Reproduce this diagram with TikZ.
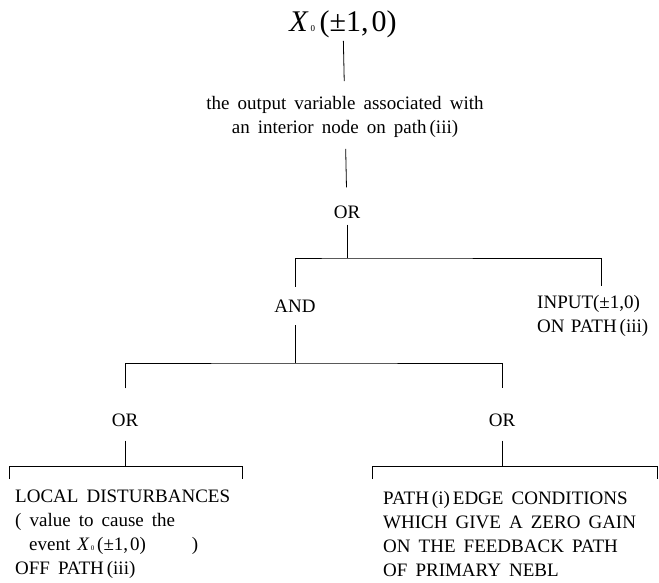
\documentclass[tikz,border=0pt]{standalone}
\usepackage{fontspec}
\setmainfont{Liberation Serif}[WordSpace=1.7]
\tikzset{
  v/.style={inner sep=0pt, font=\fontsize{19}{24}\selectfont, align=center},
  t/.style={v, align=left, anchor=west},
  e/.style={line width=0.8pt}
}
\newcommand{\Xzero}[1]{{\itshape X}\kern0.1em{\fontsize{#1}{#1}\selectfont 0}\kern0.15em(±1,\kern0.1em0)}
\newcommand{\tsp}{\kern3pt}

\begin{document}
\begin{tikzpicture}[x=1pt,y=-1pt]
  \useasboundingbox (0,0) rectangle (659,582);
  \node[v, font=\fontsize{30}{32}\selectfont] (top) at (343,24) {\Xzero{9}};
  \node[v] (desc) at (345,117) {the output variable associated with\\an interior node on path\tsp(iii)};
  \node[v] (or1) at (347,212) {OR};
  \node[v] (and) at (295,306) {AND};
  \node[t, text width=128pt] (input) at (537,316) {INPUT(±1,0)\\ON PATH\tsp(iii)};
  \node[v] (or2) at (125,420) {OR};
  \node[v] (or3) at (502,420) {OR};
  \node[t] (local) at (15,534) {LOCAL DISTURBANCES\\( value to cause the\\\hspace*{14pt}event\hspace{7pt}\Xzero{7}\hspace{46pt})\\OFF PATH\tsp(iii)};
  \node[t] (path) at (383,534) {PATH\tsp(i)\tsp EDGE CONDITIONS\\WHICH GIVE A ZERO GAIN\\ON THE FEEDBACK PATH\\OF PRIMARY NEBL};

  \coordinate (j1) at (347,258);
  \coordinate (j2) at (295,363);
  \coordinate (b1) at (125,466);
  \coordinate (b2) at (502,466);

  \draw[e, shorten <=3pt, shorten >=15pt] (top) -- (desc);
  \draw[e, shorten <=11pt, shorten >=18pt] (desc) -- (or1);
  \draw[e, shorten <=6pt] (or1) -- (j1);
  \draw[e, shorten <=13pt, shorten >=9pt] (and) |- (j1) -| (input);
  \draw[e, shorten <=13pt] (and) -- (j2);
  \draw[e, shorten <=25pt, shorten >=25pt] (or2) |- (j2) -| (or3);
  \draw[e, shorten <=14pt] (or2) -- (b1);
  \draw[e, shorten <=14pt] (or3) -- (b2);
  % brackets over the leaves
  \draw[e] (9,479) |- (242,466) -- (242,479);
  \draw[e] (372,479) |- (657,466) -- (657,479);
\end{tikzpicture}
\end{document}
